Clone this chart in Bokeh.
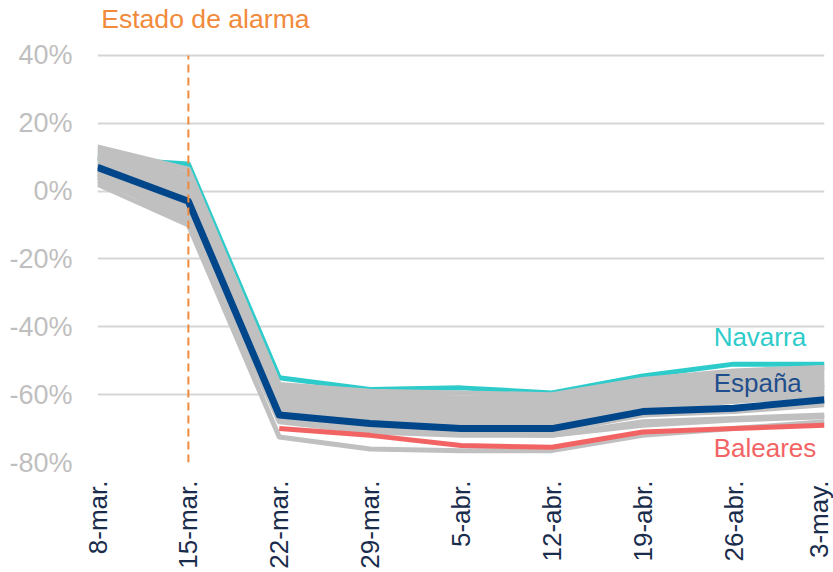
from bokeh.plotting import figure
from bokeh.models import Range1d, FixedTicker, Label
from bokeh.embed import file_html
from bokeh.resources import INLINE
import math

# ---------------- data ----------------
dates = ["8-mar.", "15-mar.", "22-mar.", "29-mar.", "5-abr.", "12-abr.", "19-abr.", "26-abr.", "3-may."]

espana   = [7, -3, -66, -68.5, -70, -70, -65, -64, -61.5]
navarra  = [9.7, 8, -55, -58.5, -58, -59.5, -54.5, -51, -51]
baleares = [3, -6, -70, -72, -75, -75.5, -71, -70, -69]

andalucia   = [6, -4, -65, -68, -69, -69, -64, -62, -60]
aragon      = [10, 2, -60, -63, -63, -64, -59, -57, -55]
asturias    = [5, -5, -64, -67, -68, -68, -63, -61, -58]
canarias    = [4, -8, -67, -70.5, -71.5, -72, -68, -67, -66]
cantabria   = [8, -1, -62, -65, -66, -66, -61, -59, -57]
cyl         = [9, 1, -61, -64, -64, -65, -60, -58, -56]
clm         = [7, -2, -63, -66, -67, -67, -62, -60, -58]
cataluna    = [3, -7, -66, -69.5, -71, -71, -66, -64, -62]
valencia    = [6, -3, -64, -67, -68, -68, -63, -61, -59]
extremadura = [11, 4, -59, -61, -62, -62, -57, -55, -53]
galicia     = [12, 5, -58, -60, -61, -61, -56, -54, -52]
madrid      = [2, -10, -72.5, -76, -76.5, -76.5, -72, -70, -68]
murcia      = [13, 6.5, -57, -59, -59.5, -60, -55.5, -53, -52]
pais_vasco  = [8, 0, -62, -64, -65, -66, -61, -59, -57]
rioja       = [10, 3, -60, -62, -63, -63, -58, -56, -54]
ceuta       = [5, -6, -65, -68, -69.5, -70, -66, -65, -63]
melilla     = [4, -9, -68, -71, -72, -72, -69, -67.5, -66.5]

grey_regions = [andalucia, aragon, asturias, canarias, cantabria, cyl, clm, cataluna,
                valencia, extremadura, galicia, madrid, murcia, pais_vasco, rioja,
                ceuta, melilla]

y_ticks = [-80, -60, -40, -20, 0, 20, 40]
y_tick_labels = ["-80%", "-60%", "-40%", "-20%", "0%", "20%", "40%"]

alarm_index = 1
alarm_text = "Estado de alarma"

# ---------------- styles ----------------
FONT = "Liberation Sans"
GREY = "#c0c0c0"
TEAL = "#2ecbcb"
NAVY = "#00468a"
NAVY_TEXT = "#1f4e8c"
RED = "#f26464"
ORANGE = "#f28a3c"

xs = list(range(len(dates)))

p = figure(frame_width=727, frame_height=462, output_backend="svg", toolbar_location=None,
           x_range=Range1d(0, len(dates) - 1), y_range=Range1d(-80, 56.2),
           min_border_left=97, min_border_right=9, min_border_top=0, min_border_bottom=110)
p.outline_line_color = None
p.background_fill_color = "white"
p.border_fill_color = "white"

p.xgrid.grid_line_color = None
p.ygrid.grid_line_color = "#d6d6d6"
p.ygrid.grid_line_width = 2
p.ygrid.ticker = FixedTicker(ticks=y_ticks)

p.yaxis.ticker = FixedTicker(ticks=y_ticks)
p.yaxis.major_label_overrides = {t: l for t, l in zip(y_ticks, y_tick_labels)}
p.yaxis.axis_line_color = None
p.yaxis.major_tick_line_color = None
p.yaxis.minor_tick_line_color = None
p.yaxis.major_tick_out = 0
p.yaxis.major_tick_in = 0
p.yaxis.major_label_text_font = FONT
p.yaxis.major_label_text_font_size = "27px"
p.yaxis.major_label_text_color = "#bfbfbf"
p.yaxis.major_label_standoff = 25

p.xaxis.ticker = FixedTicker(ticks=xs)
p.xaxis.major_label_overrides = {i: d for i, d in zip(xs, dates)}
p.xaxis.major_label_orientation = math.pi / 2
p.xaxis.axis_line_color = None
p.xaxis.major_tick_line_color = None
p.xaxis.minor_tick_line_color = None
p.xaxis.major_tick_out = 0
p.xaxis.major_tick_in = 0
p.xaxis.major_label_text_font = FONT
p.xaxis.major_label_text_font_size = "26px"
p.xaxis.major_label_text_color = "#1a2c4c"
p.xaxis.major_label_standoff = 18

# Navarra under the grey band
p.line(xs, navarra, line_color=TEAL, line_width=5, line_join="round")
for reg in grey_regions:
    p.line(xs, reg, line_color=GREY, line_width=5, line_join="round")
p.line(xs[2:], baleares[2:], line_color=RED, line_width=5, line_join="round")
p.line(xs, espana, line_color=NAVY, line_width=7, line_join="round")

# dashed "estado de alarma" marker from bottom to top gridline
p.segment(x0=[alarm_index], y0=[y_ticks[0]], x1=[alarm_index], y1=[y_ticks[-1]],
          line_color=ORANGE, line_width=2, line_dash="8 5")

p.add_layout(Label(x=alarm_index, y=50.6, x_offset=17, text=alarm_text,
                   text_align="center", text_baseline="middle", text_font=FONT,
                   text_font_size="26.6px", text_color=ORANGE))

p.add_layout(Label(x=6.78, y=-43, text="Navarra", text_align="left", text_baseline="middle",
                   text_font=FONT, text_font_size="26px", text_color=TEAL))
p.add_layout(Label(x=6.78, y=-56.5, text="España", text_align="left", text_baseline="middle",
                   text_font=FONT, text_font_size="26px", text_color=NAVY_TEXT))
p.add_layout(Label(x=6.78, y=-75.6, text="Baleares", text_align="left", text_baseline="middle",
                   text_font=FONT, text_font_size="26px", text_color=RED))

open("out.html", "w").write(file_html(p, INLINE))
